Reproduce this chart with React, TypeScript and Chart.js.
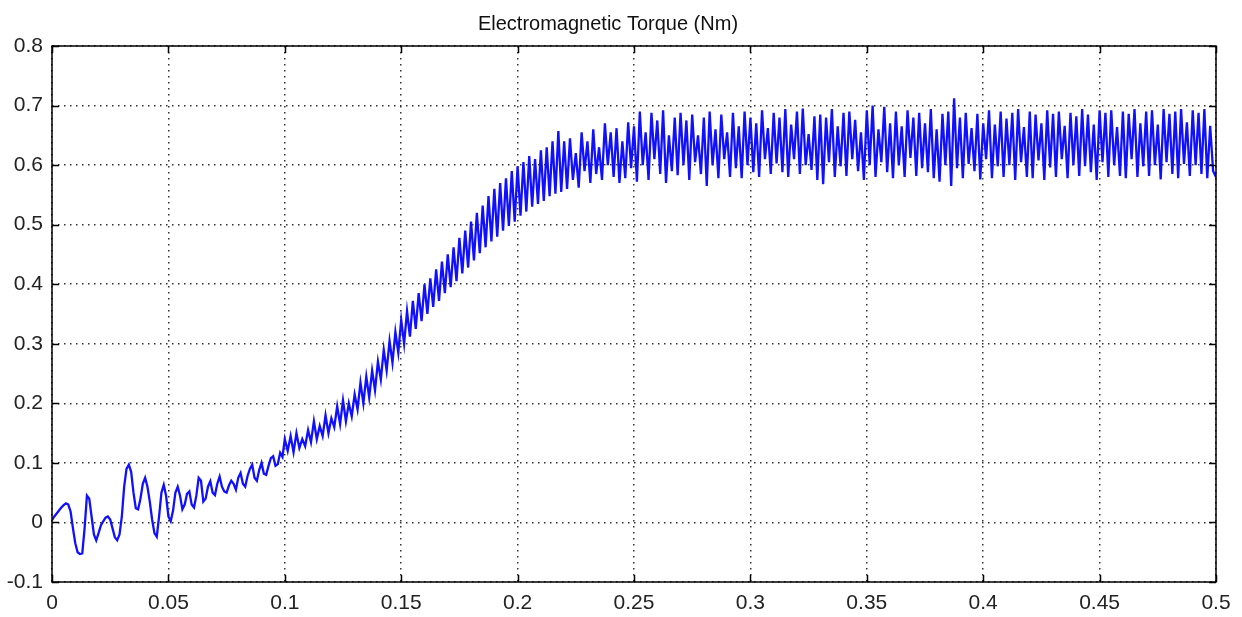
import React, { useEffect, useRef } from "react";
import { Chart, registerables } from "chart.js";

Chart.register(...registerables);

const chartTitle = "Electromagnetic Torque (Nm)";
const xTickValues = [0, 0.05, 0.1, 0.15, 0.2, 0.25, 0.3, 0.35, 0.4, 0.45, 0.5];
const yTickValues = [-0.1, 0, 0.1, 0.2, 0.3, 0.4, 0.5, 0.6, 0.7, 0.8];

// 0.000 .. 0.100 s, sampled every 0.001 s
const startT0 = 0;
const startStep = 0.001;
const torqueStart = [
  0.004, 0.01, 0.015, 0.02, 0.025, 0.029, 0.032, 0.03, 0.018, -0.01,
  -0.035, -0.05, -0.053, -0.052, -0.01, 0.045, 0.04, 0.01, -0.02, -0.03,
  -0.018, -0.005, 0.002, 0.008, 0.01, 0.005, -0.01, -0.025, -0.03, -0.02,
  0.01, 0.06, 0.09, 0.097, 0.085, 0.05, 0.024, 0.022, 0.04, 0.065,
  0.075, 0.06, 0.035, 0.005, -0.018, -0.024, 0.01, 0.05, 0.063, 0.045,
  0.01, 0.002, 0.02, 0.05, 0.06, 0.045, 0.022, 0.03, 0.048, 0.052,
  0.03, 0.025, 0.045, 0.075, 0.07, 0.035, 0.04, 0.06, 0.069, 0.05,
  0.046, 0.065, 0.077, 0.06, 0.052, 0.05, 0.062, 0.07, 0.065, 0.055,
  0.075, 0.083, 0.065, 0.06, 0.078, 0.09, 0.097, 0.075, 0.07, 0.088,
  0.1, 0.082, 0.08, 0.095, 0.108, 0.111, 0.095, 0.098, 0.117, 0.11,
  0.14,
];

// 0.10125 .. 0.22 s, sampled every 0.00125 s
const riseT0 = 0.10125;
const riseStep = 0.00125;
const torqueRise = [
  0.12, 0.145, 0.118, 0.15, 0.125, 0.14, 0.128, 0.155,
  0.135, 0.17, 0.14, 0.162, 0.145, 0.18, 0.15, 0.175,
  0.16, 0.195, 0.165, 0.205, 0.17, 0.2, 0.178, 0.215,
  0.19, 0.235, 0.2, 0.245, 0.21, 0.255, 0.222, 0.27,
  0.24, 0.29, 0.255, 0.305, 0.268, 0.32, 0.285, 0.34,
  0.3, 0.355, 0.312, 0.372, 0.325, 0.385, 0.338, 0.4,
  0.35, 0.41, 0.362, 0.425, 0.372, 0.438, 0.385, 0.45,
  0.395, 0.462, 0.405, 0.478, 0.418, 0.49, 0.428, 0.505,
  0.44, 0.52, 0.452, 0.532, 0.462, 0.548, 0.472, 0.56,
  0.48, 0.57, 0.49, 0.578, 0.498, 0.59, 0.505, 0.598,
  0.515, 0.605, 0.522, 0.615, 0.53, 0.61, 0.535, 0.625,
  0.54, 0.63, 0.548, 0.64, 0.552, 0.657, 0.555, 0.64,
];

// 0.22125 .. 0.5 s, sampled every 0.00125 s
const steadyT0 = 0.22125;
const steadyStep = 0.00125;
const torqueSteady = [
  0.56, 0.645, 0.575, 0.62, 0.562, 0.655, 0.59, 0.64,
  0.57, 0.66, 0.585, 0.63, 0.575, 0.67, 0.6, 0.655,
  0.58, 0.662, 0.57, 0.64, 0.578, 0.672, 0.595, 0.665,
  0.572, 0.69, 0.6, 0.655, 0.575, 0.688, 0.61, 0.675,
  0.585, 0.692, 0.57, 0.65, 0.59, 0.68, 0.583, 0.688,
  0.6, 0.675, 0.575, 0.685, 0.605, 0.65, 0.585, 0.68,
  0.565, 0.69, 0.6, 0.66, 0.578, 0.685, 0.61, 0.655,
  0.58, 0.688, 0.595, 0.665, 0.578, 0.69, 0.6, 0.68,
  0.588, 0.67, 0.58, 0.692, 0.61, 0.662, 0.585, 0.688,
  0.603, 0.68, 0.588, 0.694, 0.58, 0.668, 0.61, 0.69,
  0.585, 0.695, 0.6, 0.652, 0.592, 0.682, 0.575, 0.685,
  0.568, 0.68, 0.605, 0.694, 0.58, 0.665, 0.598, 0.688,
  0.582, 0.69, 0.61, 0.676, 0.59, 0.655, 0.575, 0.692,
  0.6, 0.7, 0.58, 0.66, 0.605, 0.698, 0.588, 0.67,
  0.578, 0.69, 0.6, 0.665, 0.58, 0.692, 0.612, 0.68,
  0.582, 0.688, 0.595, 0.67, 0.588, 0.694, 0.578, 0.66,
  0.572, 0.686, 0.6, 0.69, 0.565, 0.712, 0.595, 0.68,
  0.578, 0.688, 0.602, 0.662, 0.59, 0.686, 0.576, 0.67,
  0.61, 0.692, 0.578, 0.668, 0.598, 0.69, 0.58, 0.678,
  0.6, 0.688, 0.575, 0.694, 0.605, 0.664, 0.58, 0.69,
  0.578, 0.685, 0.608, 0.67, 0.575, 0.692, 0.596, 0.686,
  0.58, 0.69, 0.61, 0.666, 0.578, 0.688, 0.6, 0.682,
  0.582, 0.694, 0.598, 0.685, 0.588, 0.668, 0.575, 0.692,
  0.605, 0.688, 0.58, 0.692, 0.6, 0.664, 0.582, 0.69,
  0.578, 0.686, 0.61, 0.694, 0.58, 0.67, 0.598, 0.69,
  0.582, 0.692, 0.6, 0.668, 0.576, 0.694, 0.605, 0.686,
  0.585, 0.69, 0.578, 0.694, 0.602, 0.672, 0.582, 0.692,
  0.6, 0.688, 0.585, 0.694, 0.578, 0.666, 0.59, 0.58,
];

function toPoints(t0: number, step: number, values: number[]) {
  return values.map((v, i) => ({ x: +(t0 + i * step).toFixed(6), y: v }));
}

const frameTicks = {
  id: "frameTicks",
  afterDraw(chart: any) {
    const { ctx, chartArea, scales } = chart;
    const { left, right, top, bottom } = chartArea;
    ctx.save();
    ctx.setLineDash([]);
    ctx.strokeStyle = "#000";
    ctx.lineWidth = 1.5;
    ctx.beginPath();
    xTickValues.forEach((v) => {
      const px = Math.round(scales.x.getPixelForValue(v)) + 0.5;
      ctx.moveTo(px, bottom);
      ctx.lineTo(px, bottom - 7);
      ctx.moveTo(px, top);
      ctx.lineTo(px, top + 7);
    });
    yTickValues.forEach((v) => {
      const py = Math.round(scales.y.getPixelForValue(v)) + 0.5;
      ctx.moveTo(left, py);
      ctx.lineTo(left + 7, py);
      ctx.moveTo(right, py);
      ctx.lineTo(right - 7, py);
    });
    ctx.stroke();
    ctx.strokeRect(left, top, right - left, bottom - top);
    ctx.restore();
  },
};

export default function App() {
  const canvasRef = useRef<HTMLCanvasElement | null>(null);

  useEffect(() => {
    if (!canvasRef.current) return;
    const data = [
      ...toPoints(startT0, startStep, torqueStart),
      ...toPoints(riseT0, riseStep, torqueRise),
      ...toPoints(steadyT0, steadyStep, torqueSteady),
    ];
    const fontFamily = "'Liberation Sans', Arial, sans-serif";
    const chart = new Chart(canvasRef.current, {
      type: "line",
      data: {
        datasets: [
          {
            data,
            borderColor: "#1010ff",
            borderWidth: 2.3,
            pointRadius: 0,
            tension: 0,
            fill: false,
          },
        ],
      },
      options: {
        animation: false,
        responsive: true,
        maintainAspectRatio: false,
        layout: { padding: { left: 0, right: 26, top: 0, bottom: 0 } },
        plugins: {
          legend: { display: false },
          tooltip: { enabled: false },
          title: {
            display: true,
            text: chartTitle,
            color: "#111",
            font: { family: fontFamily, size: 20, weight: "normal" },
            padding: { top: 12, bottom: 10 },
          },
        },
        scales: {
          x: {
            type: "linear",
            min: 0,
            max: 0.5,
            afterBuildTicks: (s: any) => {
              s.ticks = xTickValues.map((v) => ({ value: v }));
            },
            afterFit: (s: any) => {
              s.height = 35;
            },
            ticks: {
              color: "#222",
              font: { family: fontFamily, size: 21 },
              padding: 9,
              maxRotation: 0,
              autoSkip: false,
              callback: (v: any) => String(Number(Number(v).toFixed(2))),
            },
            grid: {
              color: "#333",
              lineWidth: 1.5,
              drawTicks: false,
            },
            border: { display: false, dash: [1.5, 4.5] },
          },
          y: {
            type: "linear",
            min: -0.1,
            max: 0.8,
            afterBuildTicks: (s: any) => {
              s.ticks = yTickValues.map((v) => ({ value: v }));
            },
            afterFit: (s: any) => {
              s.width = 52;
            },
            ticks: {
              color: "#222",
              font: { family: fontFamily, size: 21 },
              padding: 9,
              autoSkip: false,
              callback: (v: any) => String(Number(Number(v).toFixed(2))),
            },
            grid: {
              color: "#333",
              lineWidth: 1.5,
              drawTicks: false,
            },
            border: { display: false, dash: [1.5, 4.5] },
          },
        },
      },
      plugins: [frameTicks],
    });
    return () => chart.destroy();
  }, []);

  return (
    <div style={{ position: "fixed", left: 0, top: 0, width: 1242, height: 617, background: "#fff" }}>
      <canvas ref={canvasRef} />
    </div>
  );
}
